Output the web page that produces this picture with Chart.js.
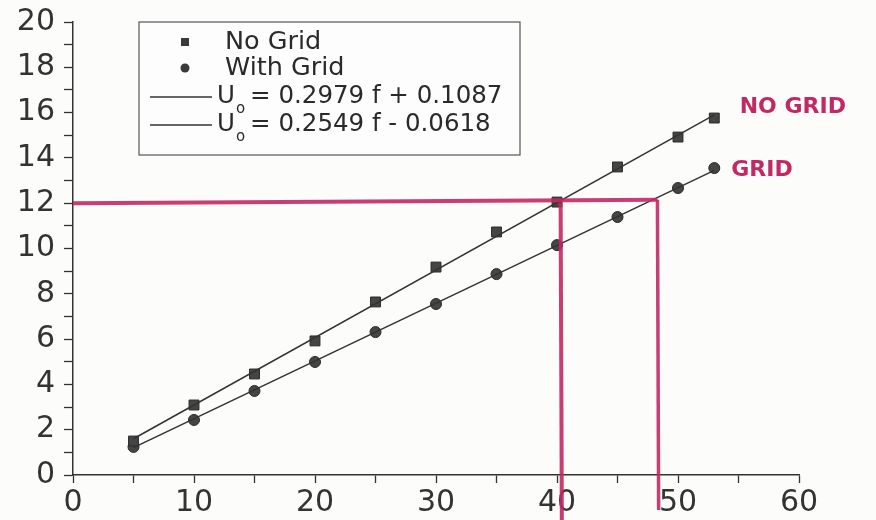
<!DOCTYPE html>
<html lang="en">
<head>
    <meta charset="UTF-8">
    <title>U0 vs f</title>
    <script src="https://cdn.jsdelivr.net/npm/chart.js@4.4.0/dist/chart.umd.min.js"></script>
    <style>
        body { margin: 0; background: #fcfcfb; }
        canvas { display: block; }
    </style>
</head>
<body>
    <canvas id="chart" width="876" height="520"></canvas>
    <script>
        // Measured points
        const freq = [5, 10, 15, 20, 25, 30, 35, 40, 45, 50, 53];
        const noGrid = [1.50, 3.09, 4.46, 5.92, 7.64, 9.18, 10.73, 12.05, 13.60, 14.92, 15.76];
        const withGrid = [1.24, 2.43, 3.71, 4.99, 6.31, 7.55, 8.87, 10.15, 11.39, 12.67, 13.55];

        // Linear fit lines (end points)
        const fitX = [5, 53];
        const fitNoGrid = [1.60, 15.90];
        const fitGrid = [1.21, 13.45];

        // Hand-drawn guide lines (magenta)
        const guideHX = [0, 48.3];
        const guideHY = [12.0, 12.15];
        const guide1X = [40.3, 40.4];
        const guide1Y = [12.0, -2.0];
        const guide2X = [48.3, 48.4];
        const guide2Y = [12.15, -1.55];

        const legendLabels = ['No Grid', 'With Grid'];
        const fitLabels = ['0.2979 f + 0.1087', '0.2549 f - 0.0618'];
        const noteLabels = ['NO GRID', 'GRID'];
        const notePos = [{ x: 55.1, y: 16.25 }, { x: 54.4, y: 13.45 }];

        const pts = (xs, ys) => xs.map((x, i) => ({ x: x, y: ys[i] }));
        const pink = 'rgba(196, 40, 100, 0.9)';
        const ink = '#333';

        // Legend box + handwritten notes
        const overlay = {
            id: 'overlay',
            afterDraw(chart) {
                const ctx = chart.ctx;
                const area = chart.chartArea;
                const bx = area.left + 66, by = area.top, bw = 381, bh = 133;
                ctx.save();
                ctx.fillStyle = '#fdfdfd';
                ctx.fillRect(bx, by, bw, bh);
                ctx.strokeStyle = '#555';
                ctx.lineWidth = 1.2;
                ctx.strokeRect(bx, by, bw, bh);

                const rows = [20, 46, 75, 103];
                ctx.fillStyle = '#3a3a3a';
                ctx.fillRect(bx + 42, by + rows[0] - 4, 8, 8);
                ctx.beginPath();
                ctx.arc(bx + 46, by + rows[1], 4.5, 0, Math.PI * 2);
                ctx.fill();

                ctx.strokeStyle = ink;
                ctx.lineWidth = 1.5;
                [rows[2], rows[3]].forEach(r => {
                    ctx.beginPath();
                    ctx.moveTo(bx + 11, by + r);
                    ctx.lineTo(bx + 73, by + r);
                    ctx.stroke();
                });

                ctx.fillStyle = '#2a2a2a';
                ctx.textBaseline = 'middle';
                ctx.font = '25.5px "DejaVu Sans"';
                ctx.fillText(legendLabels[0], bx + 86, by + rows[0]);
                ctx.fillText(legendLabels[1], bx + 86, by + rows[1]);
                [rows[2], rows[3]].forEach((r, i) => {
                    let x = bx + 78;
                    ctx.font = '24.5px "DejaVu Sans"';
                    ctx.fillText('U', x, by + r);
                    x += ctx.measureText('U').width + 1;
                    ctx.font = '15px "DejaVu Sans"';
                    ctx.fillText('o', x, by + r + 12);
                    x += ctx.measureText('o').width + 5;
                    ctx.font = '24.5px "DejaVu Sans"';
                    ctx.fillText('= ' + fitLabels[i], x, by + r);
                });

                // notes next to the end points
                const xs = chart.scales.x, ys = chart.scales.y;
                ctx.fillStyle = '#c42864';
                ctx.font = 'bold 22px "DejaVu Sans"';
                noteLabels.forEach((t, i) => {
                    ctx.fillText(t, xs.getPixelForValue(notePos[i].x), ys.getPixelForValue(notePos[i].y));
                });
                ctx.restore();
            }
        };

        const guide = (xs, ys, w) => ({
            data: pts(xs, ys),
            showLine: true,
            borderColor: pink,
            borderWidth: w,
            pointRadius: 0,
            clip: false
        });

        new Chart(document.getElementById('chart').getContext('2d'), {
            type: 'scatter',
            data: {
                datasets: [
                    guide(guideHX, guideHY, 4),
                    guide(guide1X, guide1Y, 4),
                    guide(guide2X, guide2Y, 3.5),
                    {
                        data: pts(fitX, fitNoGrid),
                        showLine: true,
                        borderColor: ink,
                        borderWidth: 1.5,
                        pointRadius: 0
                    },
                    {
                        data: pts(fitX, fitGrid),
                        showLine: true,
                        borderColor: ink,
                        borderWidth: 1.5,
                        pointRadius: 0
                    },
                    {
                        label: legendLabels[0],
                        data: pts(freq, noGrid),
                        pointStyle: 'rect',
                        pointRadius: 7,
                        backgroundColor: '#454545',
                        borderColor: '#2a2a2a',
                        borderWidth: 1
                    },
                    {
                        label: legendLabels[1],
                        data: pts(freq, withGrid),
                        pointStyle: 'circle',
                        pointRadius: 5.5,
                        backgroundColor: '#454545',
                        borderColor: '#2a2a2a',
                        borderWidth: 1
                    }
                ]
            },
            options: {
                responsive: false,
                animation: false,
                layout: { padding: { top: 22, right: 77, left: 0, bottom: 0 } },
                plugins: {
                    legend: { display: false },
                    tooltip: { enabled: false }
                },
                scales: {
                    x: {
                        type: 'linear',
                        min: 0,
                        max: 60,
                        afterFit: s => { s.height = 45; },
                        border: { color: ink, width: 1.5 },
                        grid: { drawOnChartArea: false, tickLength: 8, tickColor: ink, tickWidth: 1.3 },
                        ticks: {
                            stepSize: 5,
                            autoSkip: false,
                            maxRotation: 0,
                            padding: 2,
                            color: '#333',
                            font: { family: 'DejaVu Sans', size: 30 },
                            callback: v => (v % 10 === 0 ? v : '')
                        }
                    },
                    y: {
                        min: 0,
                        max: 20,
                        afterFit: s => { s.width = 73; s.paddingTop = 0; s.paddingBottom = 0; },
                        border: { color: ink, width: 1.5 },
                        grid: { drawOnChartArea: false, tickLength: 9, tickColor: ink, tickWidth: 1.3 },
                        ticks: {
                            stepSize: 1,
                            autoSkip: false,
                            padding: 9,
                            color: '#333',
                            font: { family: 'DejaVu Sans', size: 30 },
                            callback: v => (v % 2 === 0 ? v : '')
                        }
                    }
                }
            },
            plugins: [overlay]
        });
    </script>
</body>
</html>
